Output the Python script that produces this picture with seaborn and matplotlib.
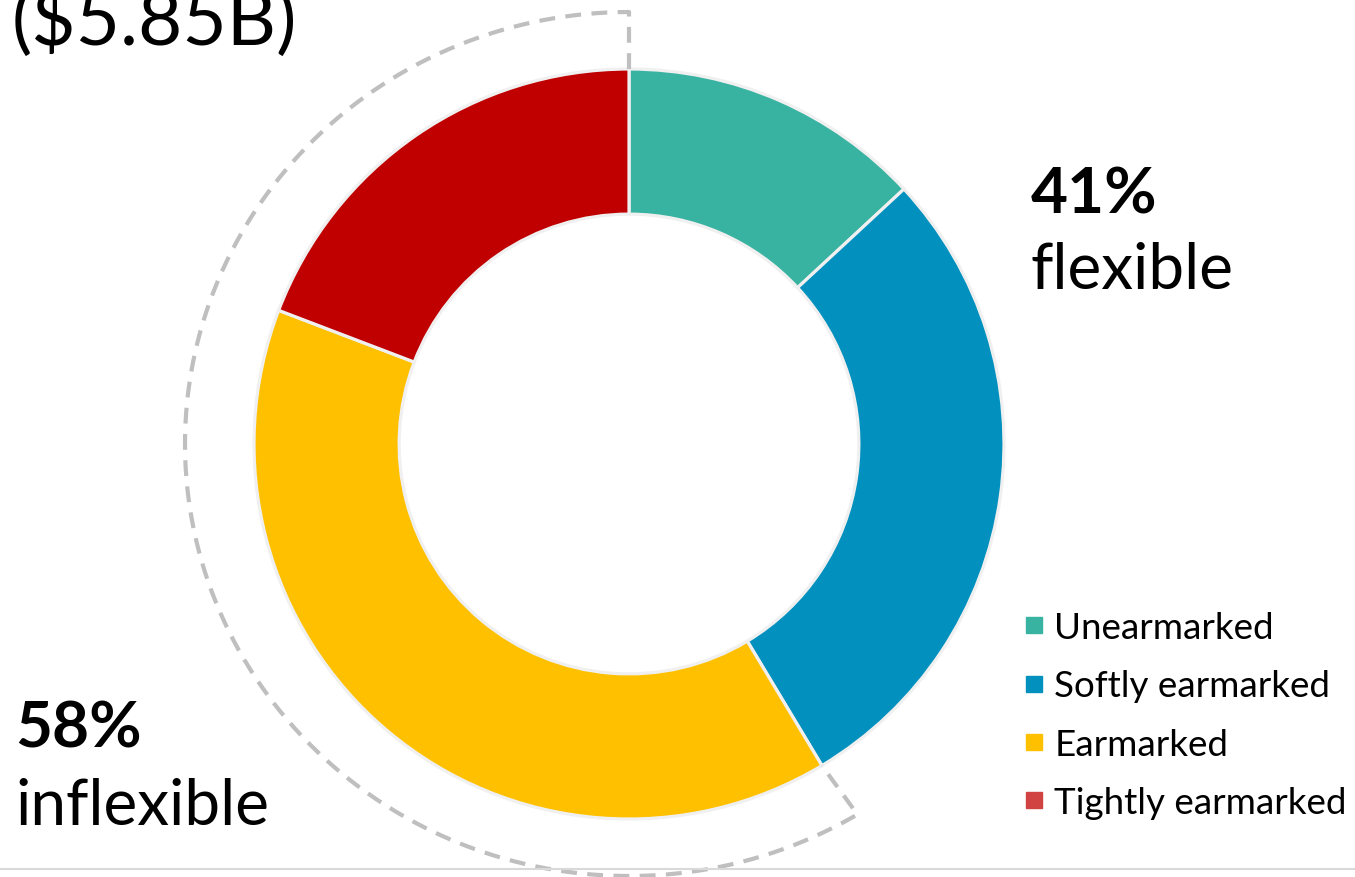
import numpy as np
import seaborn as sns
import matplotlib.pyplot as plt
from matplotlib.lines import Line2D

# data
categories = ['Unearmarked', 'Softly earmarked', 'Earmarked', 'Tightly earmarked']
shares = [13.1, 28.3, 39.4, 19.2]
colors = ['#38b3a1', '#0291be', '#ffc000', '#c00000']
legend_colors = ['#38b3a1', '#0291be', '#ffc000', '#d14343']
flexible_label = ['41%', 'flexible']
inflexible_label = ['58%', 'inflexible']
total_label = '($5.85B)'

sns.set_theme(style='white')
plt.rcParams['font.family'] = ['Lato', 'DejaVu Sans']
plt.rcParams['text.color'] = 'black'

W, H = 1355, 878
fig = plt.figure(figsize=(W / 100, H / 100), dpi=100)
ax = fig.add_axes([0, 0, 1, 1])

# donut, clockwise from the top
ax.pie(shares, colors=colors, startangle=90, counterclock=False,
       radius=1.0,
       wedgeprops=dict(width=0.387, edgecolor='#f0f0f0', linewidth=2.3))

# pixel -> data mapping (centre at 629,445 px; 375 px per unit)
cx, cy, s = 629, 445, 375
ax.set_xlim(-cx / s, (W - cx) / s)
ax.set_ylim(-(H - cy) / s, cy / s)
ax.set_aspect('auto')
ax.axis('off')

# dashed bracket around the inflexible part
flex_share = sum(shares[:2]) / sum(shares)
end = 2 * np.pi * flex_share
theta = np.linspace(2 * np.pi, end, 300)
rx, ry = 1.184, 1.152
xs = [0, 0] + list(rx * np.sin(theta)) + [np.sin(end)]
ys = [1.0, ry] + list(ry * np.cos(theta)) + [np.cos(end)]
ax.plot(xs, ys, color='#bfbfbf', lw=3.0, dashes=(3.8, 2.5),
        solid_joinstyle='round', dash_joinstyle='round')

# bottom rule
ax.axhline(-(870 - cy) / s, color='#d9d9d9', lw=1.5)


def fx(px):
    return px / W


def fy(py):
    return 1 - py / H


fig.text(fx(12), fy(45), total_label, fontsize=55, va='baseline', ha='left',
         color='black')
fig.text(fx(1031), fy(213), flexible_label[0], fontsize=46, fontweight='bold',
         va='baseline', ha='left', color='black')
fig.text(fx(1031), fy(289), flexible_label[1], fontsize=46,
         va='baseline', ha='left', color='black')
fig.text(fx(15), fy(748), inflexible_label[0], fontsize=46, fontweight='bold',
         va='baseline', ha='left', color='black')
fig.text(fx(15), fy(825), inflexible_label[1], fontsize=46,
         va='baseline', ha='left', color='black')

handles = [Line2D([], [], marker='s', linestyle='', markersize=11,
                  markerfacecolor=c, markeredgecolor=c) for c in legend_colors]
leg = fig.legend(handles, categories, loc='upper left',
                 bbox_to_anchor=(fx(1023), fy(612)), frameon=False,
                 fontsize=26.5, handlelength=0.6, handletextpad=0.25,
                 labelspacing=0.69, borderaxespad=0, borderpad=0)
for t in leg.get_texts():
    t.set_color('black')

fig.savefig('out.png', dpi=100)
